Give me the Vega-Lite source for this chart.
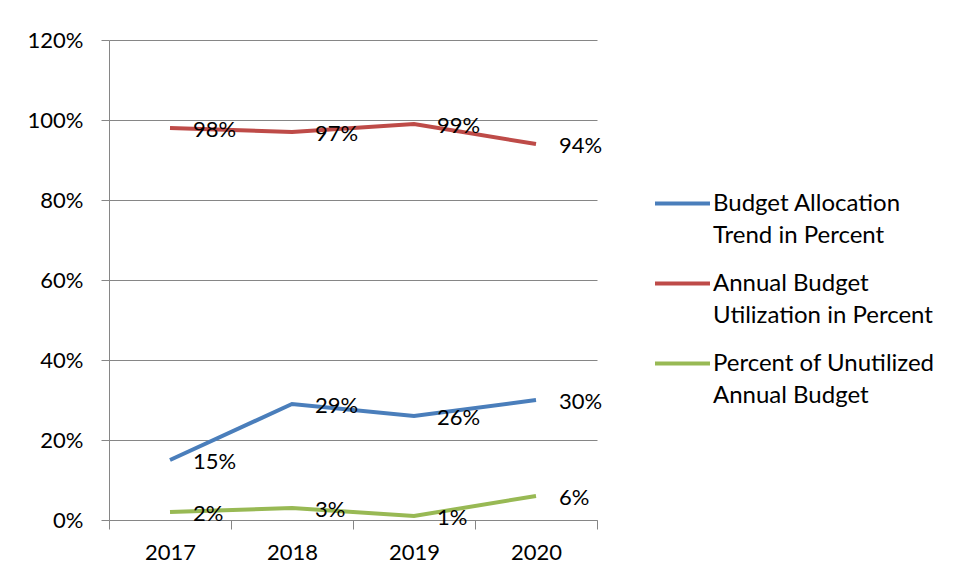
{
  "$schema": "https://vega.github.io/schema/vega-lite/v6.json",
  "width": 488,
  "height": 480,
  "padding": {"left": 27, "top": 29, "right": 5, "bottom": 5},
  "background": "white",
  "data": {
    "values": [
      {"year": "2017", "series": "Budget Allocation Trend in Percent", "value": 0.15},
      {"year": "2018", "series": "Budget Allocation Trend in Percent", "value": 0.29},
      {"year": "2019", "series": "Budget Allocation Trend in Percent", "value": 0.26},
      {"year": "2020", "series": "Budget Allocation Trend in Percent", "value": 0.30},
      {"year": "2017", "series": "Annual Budget Utilization in Percent", "value": 0.98},
      {"year": "2018", "series": "Annual Budget Utilization in Percent", "value": 0.97},
      {"year": "2019", "series": "Annual Budget Utilization in Percent", "value": 0.99},
      {"year": "2020", "series": "Annual Budget Utilization in Percent", "value": 0.94},
      {"year": "2017", "series": "Percent of Unutilized Annual Budget", "value": 0.02},
      {"year": "2018", "series": "Percent of Unutilized Annual Budget", "value": 0.03},
      {"year": "2019", "series": "Percent of Unutilized Annual Budget", "value": 0.01},
      {"year": "2020", "series": "Percent of Unutilized Annual Budget", "value": 0.06}
    ]
  },
  "encoding": {
    "x": {
      "field": "year",
      "type": "ordinal",
      "scale": {"type": "band", "paddingInner": 0, "paddingOuter": 0},
      "axis": {
        "title": null,
        "labelAngle": 0,
        "tickBand": "extent",
        "tickSize": 9,
        "labelPadding": 13,
        "domainColor": "#868686",
        "tickColor": "#868686",
        "grid": false
      }
    },
    "y": {
      "field": "value",
      "type": "quantitative",
      "scale": {"domain": [0, 1.2], "nice": false},
      "axis": {
        "title": null,
        "format": ".0%",
        "values": [0, 0.2, 0.4, 0.6, 0.8, 1.0, 1.2],
        "tickSize": 8,
        "labelPadding": 18,
        "domainColor": "#868686",
        "tickColor": "#868686",
        "grid": true,
        "gridColor": "#868686",
        "gridOpacity": 1
      }
    },
    "color": {
      "field": "series",
      "type": "nominal",
      "scale": {
        "domain": ["Budget Allocation Trend in Percent", "Annual Budget Utilization in Percent", "Percent of Unutilized Annual Budget"],
        "range": ["#4A7EBB", "#BE4B48", "#98B954"]
      },
      "legend": {
        "title": null,
        "orient": "none",
        "legendX": 544,
        "legendY": 134,
        "symbolType": "stroke",
        "symbolSize": 3025,
        "symbolStrokeWidth": 4,
        "labelOffset": 1,
        "labelFont": "Lato",
        "labelFontSize": 24,
        "labelColor": "#000",
        "labelLimit": 300,
        "labelBaseline": "middle",
        "rowPadding": 6,
        "labelExpr": "datum.label == 'Budget Allocation Trend in Percent' ? ['Budget Allocation', 'Trend in Percent'] : datum.label == 'Annual Budget Utilization in Percent' ? ['Annual Budget', 'Utilization in Percent'] : ['Percent of Unutilized', 'Annual Budget']",
        "encode": {
          "labels": {"update": {"lineHeight": {"value": 32}}}
        }
      }
    }
  },
  "layer": [
    {
      "mark": {"type": "line", "strokeWidth": 4}
    },
    {
      "mark": {"type": "text", "align": "left", "baseline": "middle", "dx": 23, "dy": 2, "font": "Lato", "fontSize": 22, "color": "#000"},
      "encoding": {
        "text": {"field": "value", "type": "quantitative", "format": ".0%"},
        "color": {"value": "#000"}
      }
    }
  ],
  "config": {
    "view": {"stroke": null},
    "axis": {"labelFont": "Lato", "labelFontSize": 22, "labelColor": "#000"}
  }
}
